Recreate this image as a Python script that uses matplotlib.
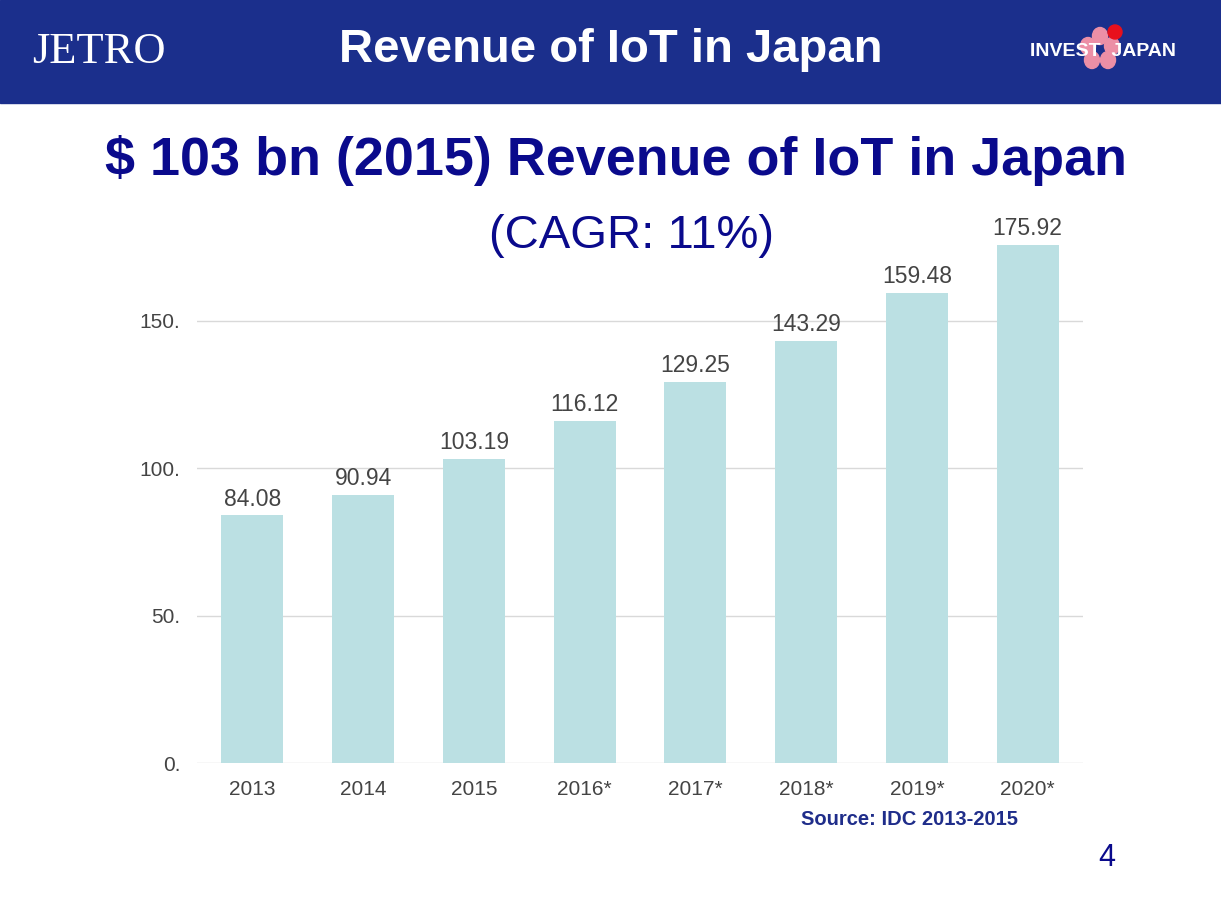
import matplotlib.pyplot as plt
from matplotlib.patches import Rectangle, Ellipse

plt.rcParams['font.family'] = ['Liberation Sans', 'DejaVu Sans']

years = ["2013", "2014", "2015", "2016*", "2017*", "2018*", "2019*", "2020*"]
revenue = [84.08, 90.94, 103.19, 116.12, 129.25, 143.29, 159.48, 175.92]
yticks = [0, 50, 100, 150]
ytick_labels = ["0.", "50.", "100.", "150."]

W, H = 1221, 905
NAVY = '#1b2f8c'
DARK = '#0a0a8c'


def fx(px):
    return px / W


def fy(py):
    return 1 - py / H


fig = plt.figure(figsize=(W / 100, H / 100), dpi=100)
fig.patch.set_facecolor('white')

# header band
fig.patches.append(Rectangle((0, fy(103)), 1, 103 / H, transform=fig.transFigure,
                             color=NAVY, zorder=0))
fig.text(fx(611), fy(50), "Revenue of IoT in Japan", color='white', fontsize=34,
         fontweight='bold', ha='center', va='center')
fig.text(fx(99), fy(52), "JETRO", color='white', fontsize=32, family='Liberation Serif',
         ha='center', va='center')

# INVEST JAPAN logo (rough)
for dx, dy in [(0, -14), (-12, -4), (12, -4), (-8, 10), (8, 10)]:
    fig.patches.append(Ellipse((fx(1100 + dx), fy(50 + dy)), 15 / W, 17 / H,
                               transform=fig.transFigure, color='#ec8fa6', zorder=1))
fig.patches.append(Ellipse((fx(1115), fy(32)), 14 / W, 14 / H, transform=fig.transFigure,
                           color='#e8101c', zorder=2))
fig.text(fx(1103), fy(52), "INVEST  JAPAN", color='white', fontsize=14, fontweight='bold',
         ha='center', va='center', zorder=3)

# titles
fig.text(fx(616), fy(160), "$ 103 bn (2015) Revenue of IoT in Japan", color=DARK,
         fontsize=38.8, fontweight='bold', ha='center', va='center')
fig.text(fx(632), fy(236), "(CAGR: 11%)", color=DARK, fontsize=34, ha='center', va='center')

# chart
ax = fig.add_axes([fx(197), fy(763), 886 / W, 180 * 2.947 / H])
ax.set_facecolor('none')
x = list(range(len(years)))
ax.bar(x, revenue, width=0.56, color='#bbe0e3', zorder=2)
for xi, v in zip(x, revenue):
    ax.text(xi, v + 1.6, f"{v:.2f}", ha='center', va='bottom', fontsize=16.5, color='#444444')

ax.set_xlim(-0.5, len(years) - 0.5)
ax.set_ylim(0, 180)
ax.set_yticks(yticks)
ax.set_yticklabels(ytick_labels)
ax.set_xticks(x)
ax.set_xticklabels(years)
ax.tick_params(axis='both', length=0, labelsize=15, labelcolor='#444444')
ax.tick_params(axis='y', pad=12)
ax.tick_params(axis='x', pad=12)
for s in ax.spines.values():
    s.set_visible(False)
ax.grid(axis='y', color='#d9d9d9', linewidth=1, zorder=1)
ax.set_axisbelow(True)

fig.text(fx(910), fy(819), "Source: IDC 2013-2015", color='#1f2d8a', fontsize=14.5,
         fontweight='bold', ha='center', va='center')
fig.text(fx(1107), fy(858), "4", color=DARK, fontsize=22, ha='center', va='center')

fig.savefig('out.png', dpi=100)
